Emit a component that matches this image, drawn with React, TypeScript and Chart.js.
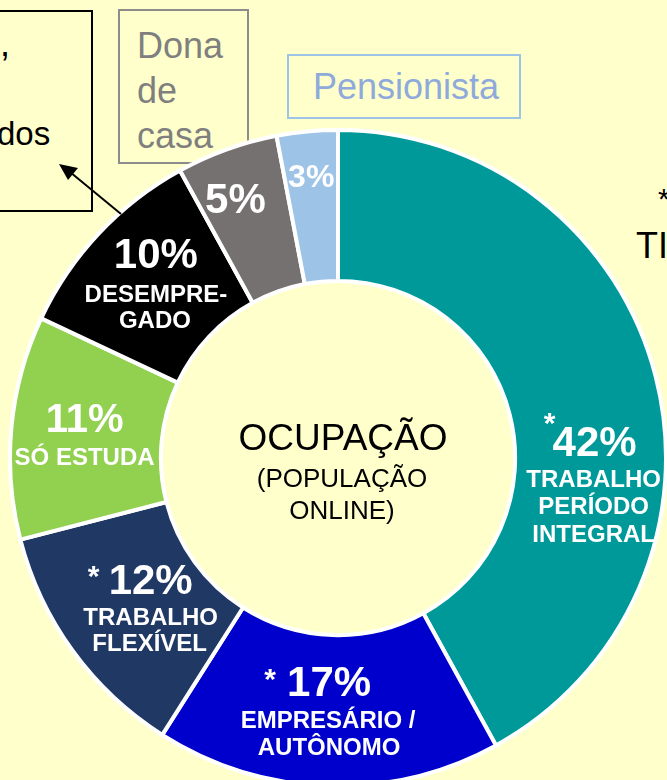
import React, { useEffect, useRef } from "react";
import { Chart, registerables } from "chart.js";

Chart.register(...registerables);

// ---- data ----
const categories = [
  "Trabalho período integral",
  "Empresário / Autônomo",
  "Trabalho flexível",
  "Só estuda",
  "Desempregado",
  "Dona de casa",
  "Pensionista",
];
const values = [42, 17, 12, 11, 10, 5, 3];
const colors = ["#009999", "#0000CC", "#203864", "#92D050", "#000000", "#767171", "#9DC3E6"];
const percentLabels = ["42%", "17%", "12%", "11%", "10%", "5%", "3%"];
const starred = [true, true, true, false, false, false, false];
const nameLines = [
  ["TRABALHO", "PERÍODO", "INTEGRAL"],
  ["EMPRESÁRIO /", "AUTÔNOMO"],
  ["TRABALHO", "FLEXÍVEL"],
  ["SÓ ESTUDA"],
  ["DESEMPRE-", "GADO"],
  [],
  [],
];
const centerLines = ["OCUPAÇÃO", "(POPULAÇÃO", "ONLINE)"];

// ---- label styling (offsets from each arc's centroid) ----
const labelStyle = [
  { star: [-33, 24], pct: [12, 49], pctSize: 42, lines: [[11, 85], [11, 112], [11, 140]] },
  { star: [-60, -36], pct: [-1, -26], pctSize: 42, lines: [[-2, 11], [-1, 38]] },
  { star: [-40, -35], pct: [17, -24], pctSize: 42, lines: [[17, 12], [16, 38]] },
  { star: null, pct: [-2, -13], pctSize: 40, lines: [[-2, 24]] },
  { star: null, pct: [2, -29], pctSize: 42, lines: [[2, 10], [1, 36]] },
  { star: null, pct: [-17, -19], pctSize: 42, lines: [] },
  { star: null, pct: [-3, -28], pctSize: 32, lines: [] },
];

const FONT = '"Liberation Sans", Arial, Helvetica, sans-serif';

const labelPlugin = {
  id: "sliceLabels",
  afterDatasetsDraw(chart: any) {
    const ctx = chart.ctx;
    const meta = chart.getDatasetMeta(0);
    ctx.save();
    ctx.fillStyle = "#ffffff";
    ctx.textAlign = "center";
    ctx.textBaseline = "middle";
    meta.data.forEach((arc: any, i: number) => {
      const p = arc.tooltipPosition();
      const st = labelStyle[i];
      ctx.font = `bold ${st.pctSize}px ${FONT}`;
      ctx.fillText(percentLabels[i], p.x + st.pct[0], p.y + st.pct[1]);
      if (starred[i] && st.star) {
        ctx.font = `bold 30px ${FONT}`;
        ctx.fillText("*", p.x + st.star[0], p.y + st.star[1] + 6);
      }
      ctx.font = `bold 24px ${FONT}`;
      nameLines[i].forEach((t, j) => {
        const o = st.lines[j];
        ctx.fillText(t, p.x + o[0], p.y + o[1]);
      });
    });
    // centre text
    const cx = (chart.chartArea.left + chart.chartArea.right) / 2;
    const cy = (chart.chartArea.top + chart.chartArea.bottom) / 2;
    ctx.fillStyle = "#000000";
    ctx.font = `37px ${FONT}`;
    ctx.fillText(centerLines[0], cx + 5, cy - 18);
    ctx.font = `26px ${FONT}`;
    ctx.fillText(centerLines[1], cx + 4, cy + 22);
    ctx.fillText(centerLines[2], cx + 4, cy + 54);
    ctx.restore();
  },
};

function DonutChart() {
  const ref = useRef<HTMLCanvasElement>(null);
  useEffect(() => {
    if (!ref.current) return;
    const chart = new Chart(ref.current, {
      type: "doughnut",
      data: {
        labels: categories,
        datasets: [
          {
            data: values,
            backgroundColor: colors,
            borderColor: "#ffffff",
            borderWidth: 4,
            hoverOffset: 0,
          },
        ],
      },
      options: {
        responsive: false,
        animation: false,
        devicePixelRatio: 1,
        cutout: "54%",
        rotation: 0,
        layout: { padding: 0 },
        plugins: {
          legend: { display: false },
          tooltip: { enabled: false },
        },
        events: [],
      },
      plugins: [labelPlugin],
    });
    return () => chart.destroy();
  }, []);
  return (
    <canvas
      ref={ref}
      width={660}
      height={660}
      style={{ position: "absolute", left: 8, top: 128, width: 660, height: 660 }}
    />
  );
}

export default function App() {
  const txt: React.CSSProperties = {
    position: "absolute",
    fontFamily: FONT,
    whiteSpace: "nowrap",
    lineHeight: 1,
  };
  return (
    <div
      style={{
        position: "fixed",
        left: 0,
        top: 0,
        width: 667,
        height: 780,
        overflow: "hidden",
        background: "#FFFFCC",
      }}
    >
      {/* left black box (cropped) */}
      <div
        style={{
          position: "absolute",
          left: -20,
          top: 10,
          width: 113,
          height: 202,
          border: "2px solid #000",
          boxSizing: "border-box",
        }}
      />
      <div style={{ ...txt, fontSize: 36, color: "#000", left: 0, top: 26 }}>,</div>
      <div style={{ ...txt, fontSize: 33, color: "#000", left: -3, top: 117 }}>dos</div>
      {/* Dona de casa box */}
      <div
        style={{
          position: "absolute",
          left: 118,
          top: 9,
          width: 131,
          height: 155,
          border: "2px solid #8C8C8C",
          boxSizing: "border-box",
        }}
      />
      <div style={{ ...txt, fontSize: 36, color: "#7F7F7F", left: 137, top: 23, lineHeight: "45px" }}>
        Dona
        <br />
        de
        <br />
        casa
      </div>
      {/* Pensionista box */}
      <div
        style={{
          position: "absolute",
          left: 287,
          top: 54,
          width: 234,
          height: 65,
          border: "2px solid #9DC3E6",
          boxSizing: "border-box",
        }}
      />
      <div style={{ ...txt, fontSize: 36, color: "#8EAADB", left: 289, width: 234, textAlign: "center", top: 69 }}>
        Pensionista
      </div>
      {/* right cropped text */}
      <div style={{ ...txt, fontSize: 30, color: "#000", left: 658, top: 184 }}>*</div>
      <div style={{ ...txt, fontSize: 36, color: "#000", left: 636, top: 228 }}>TI</div>
      <DonutChart />
      {/* arrow */}
      <svg
        width={667}
        height={780}
        style={{ position: "absolute", left: 0, top: 0, pointerEvents: "none" }}
      >
        <line x1={121} y1={214} x2={70} y2={172} stroke="#000" strokeWidth={2} />
        <polygon points="59,164 78,168 68,180" fill="#000" />
      </svg>
    </div>
  );
}
